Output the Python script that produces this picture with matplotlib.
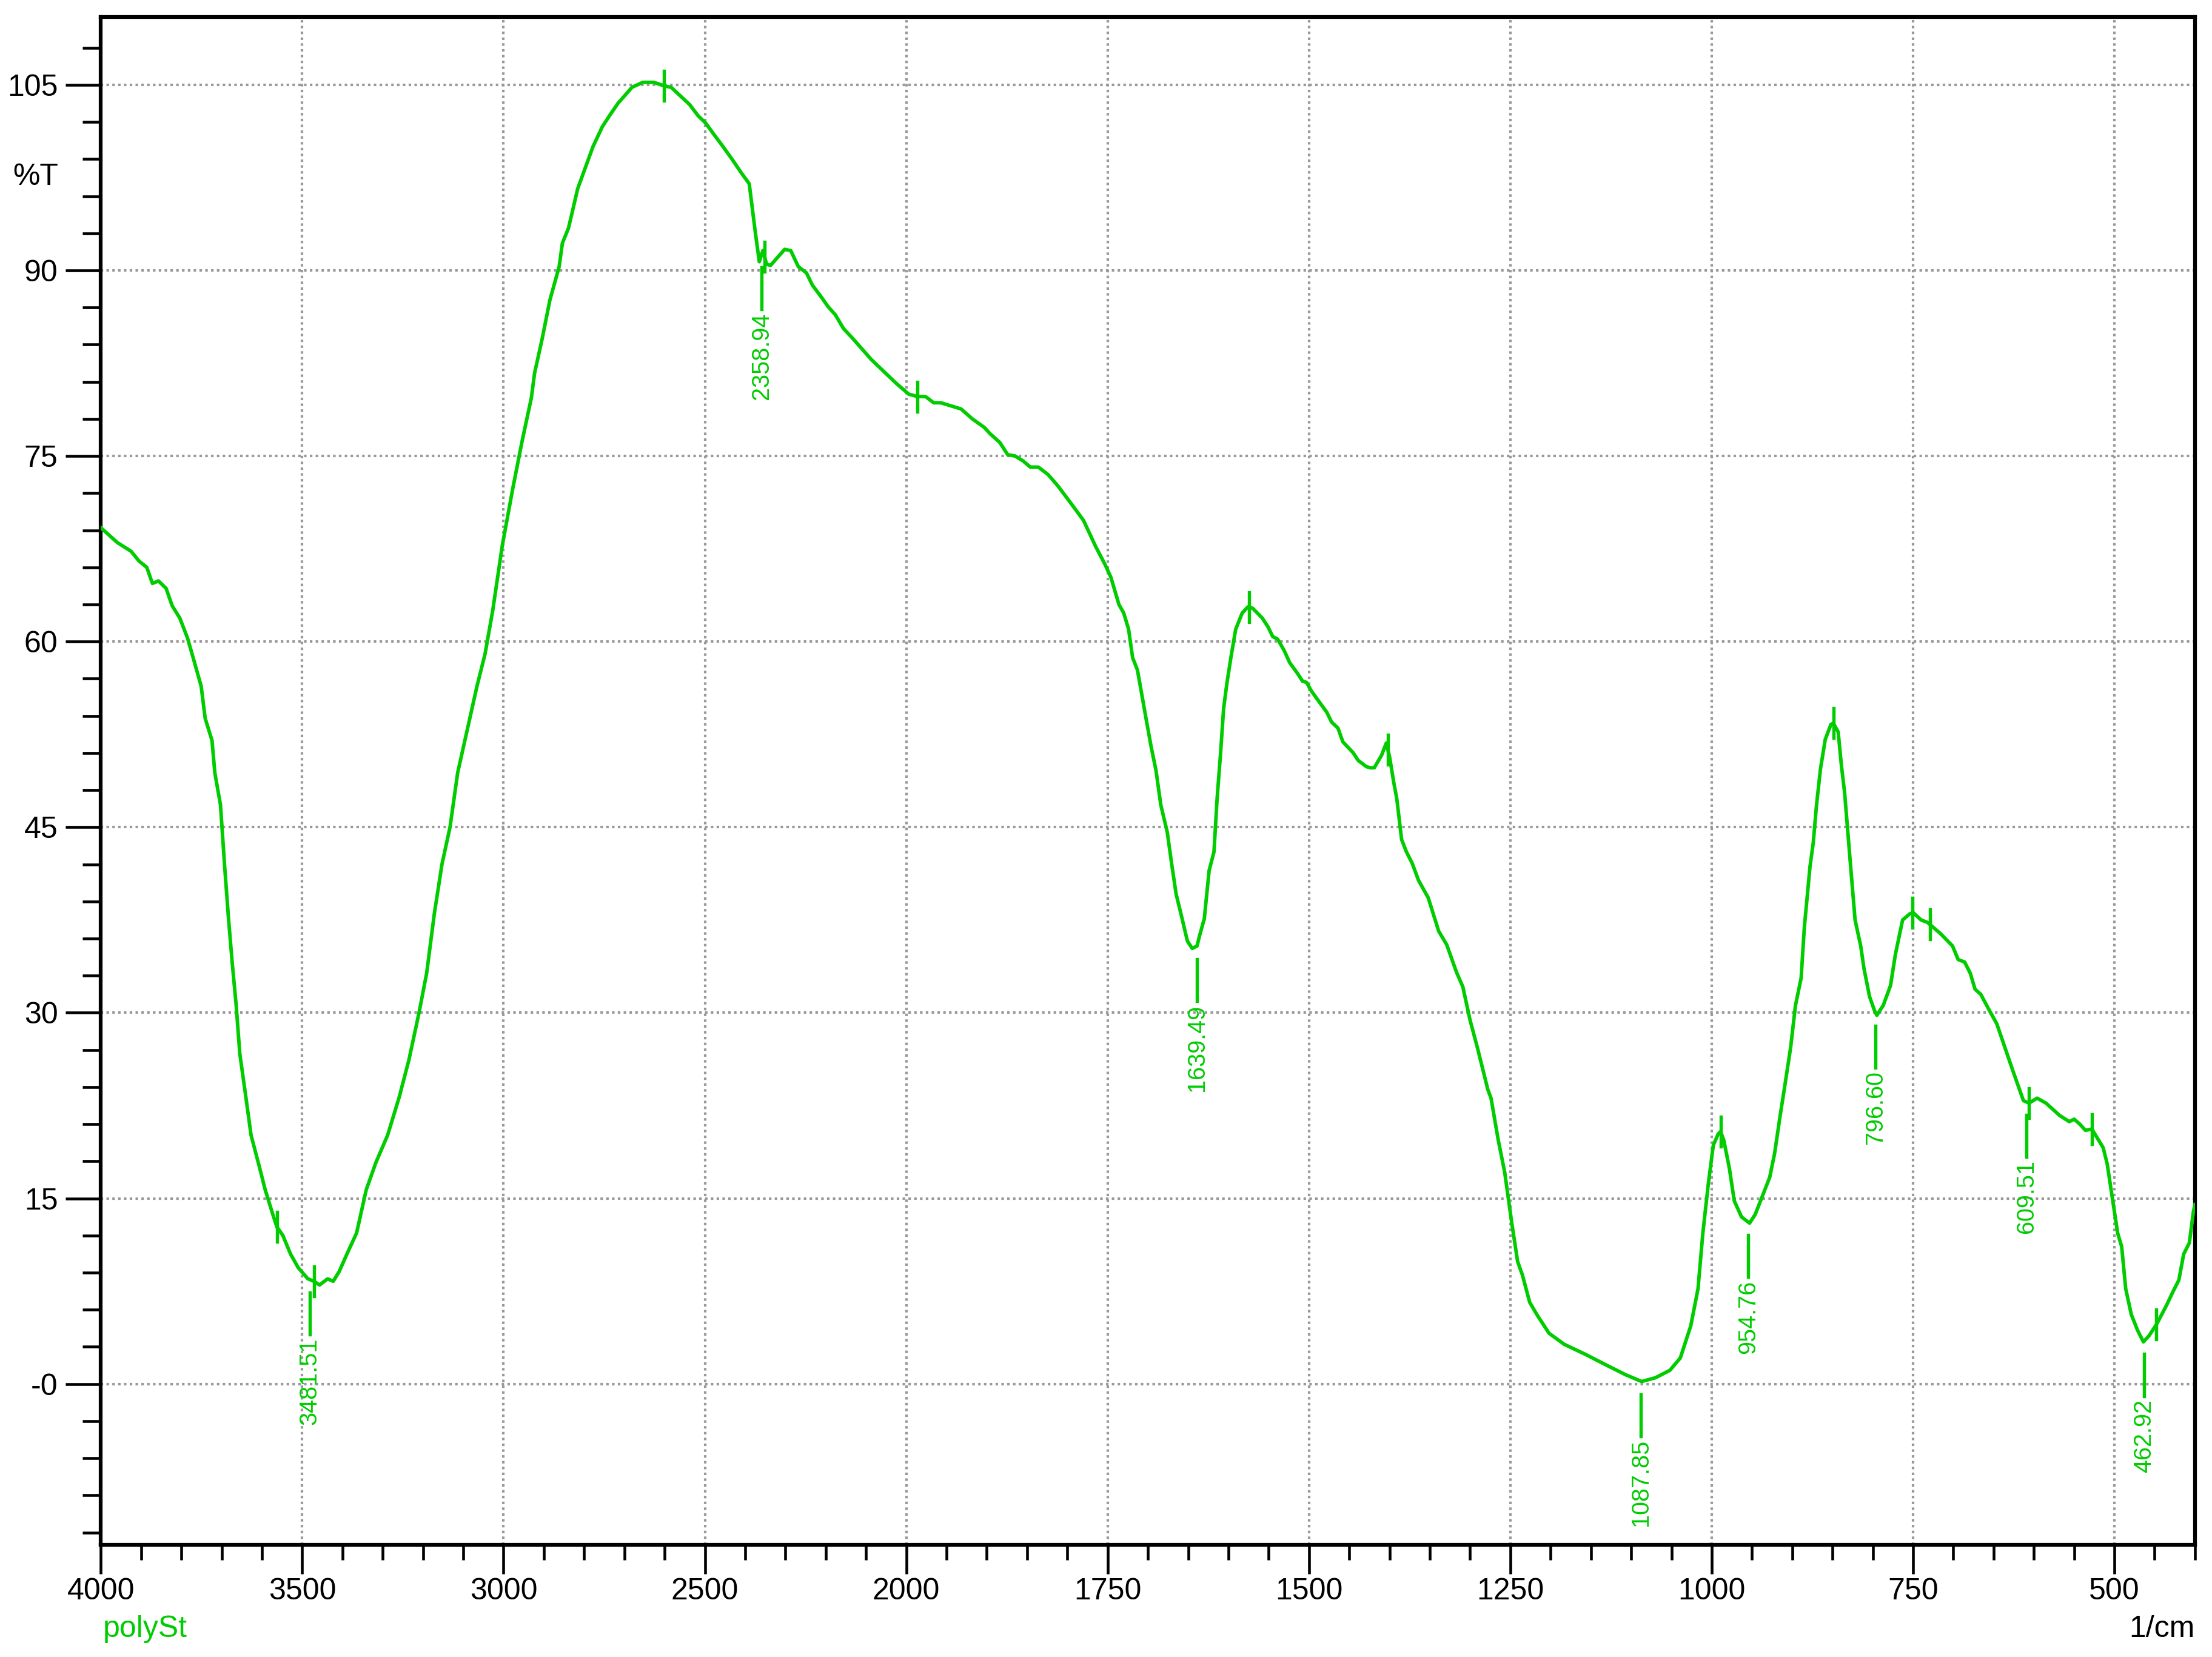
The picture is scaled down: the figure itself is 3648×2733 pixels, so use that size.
import matplotlib.pyplot as plt
import numpy as np
from matplotlib.ticker import FixedLocator, FixedFormatter

plt.rcParams['font.family'] = ['Liberation Sans', 'DejaVu Sans']

# spectrum (1/cm, %T)
wavenumber = [4000, 3983, 3959, 3925, 3905, 3886, 3872, 3857, 3838, 3823, 3804, 3785,
              3770, 3751, 3741, 3724, 3717, 3703, 3693, 3683, 3674, 3664, 3655, 3640,
              3627, 3606, 3592, 3572, 3563, 3548, 3529, 3510, 3486, 3471, 3457, 3437,
              3423, 3408, 3389, 3365, 3341, 3317, 3288, 3259, 3235, 3210, 3191, 3172,
              3153, 3133, 3114, 3090, 3066, 3046, 3027, 3003, 2977, 2954, 2931, 2923,
              2904, 2885, 2862, 2854, 2839, 2831, 2816, 2797, 2778, 2755, 2735, 2716,
              2681, 2654, 2627, 2600, 2584, 2561, 2538, 2517, 2498, 2478, 2455, 2433,
              2410, 2390, 2383, 2375, 2365, 2356, 2347, 2337, 2321, 2302, 2287, 2268,
              2248, 2233, 2210, 2195, 2176, 2156, 2133, 2087, 2026, 1997, 1986, 1976,
              1966, 1957, 1947, 1932, 1918, 1903, 1896, 1884, 1874, 1865, 1855, 1846,
              1836, 1824, 1812, 1797, 1780, 1765, 1753, 1746, 1736, 1730, 1724, 1719,
              1713, 1707, 1701, 1696, 1690, 1684, 1676, 1670, 1665, 1659, 1651, 1645,
              1639, 1636, 1630, 1624, 1618, 1614, 1610, 1606, 1602, 1597, 1591, 1583,
              1576, 1570, 1558, 1551, 1545, 1539, 1531, 1524, 1514, 1508, 1503, 1497,
              1487, 1478, 1472, 1464, 1458, 1445, 1439, 1429, 1424, 1419, 1410, 1404,
              1400, 1395, 1391, 1385, 1379, 1372, 1364, 1352, 1339, 1329, 1317, 1309,
              1300, 1291, 1278, 1274, 1265, 1257, 1248, 1241, 1235, 1226, 1217, 1202,
              1183, 1157, 1130, 1107, 1087, 1070, 1052, 1039, 1026, 1017, 1011, 1004,
              998, 992, 989, 985, 978, 972, 963, 953, 946, 937, 928, 922,
              915, 909, 902, 896, 889, 885, 878, 874, 870, 865, 859, 852,
              849, 843, 839, 835, 828, 822, 815, 811, 804, 798, 795, 787,
              778, 772, 763, 754, 750, 740, 732, 716, 701, 694, 686, 679,
              673, 666, 657, 646, 636, 626, 619, 613, 606, 596, 585, 568,
              556, 550, 543, 536, 528, 514, 509, 503, 496, 491, 486, 479,
              471, 464, 457, 447, 435, 427, 420, 414, 407, 402, 400]
transmittance = [69.2, 68.7, 68.0, 67.3, 66.5, 66.0, 64.7, 64.9, 64.3, 62.9, 61.9, 60.3,
                 58.6, 56.4, 53.8, 52.0, 49.4, 46.8, 42.0, 37.6, 34.1, 30.6, 26.7, 23.2,
                 20.1, 17.5, 15.7, 13.6, 12.7, 12.0, 10.5, 9.4, 8.5, 8.3, 8.0, 8.5,
                 8.3, 9.1, 10.5, 12.2, 15.7, 17.9, 20.1, 23.2, 26.2, 30.0, 33.2, 38.0,
                 42.0, 45.0, 49.4, 52.9, 56.4, 59.0, 62.5, 67.8, 72.4, 76.2, 79.7, 81.7,
                 84.5, 87.6, 90.3, 92.2, 93.4, 94.5, 96.6, 98.3, 100.0, 101.6, 102.6, 103.5,
                 104.8, 105.2, 105.2, 104.9, 104.8, 104.1, 103.4, 102.5, 101.9, 101.0, 100.0, 99.0,
                 97.9, 97.0, 95.2, 93.1, 90.7, 91.6, 90.5, 90.4, 91.0, 91.7, 91.6, 90.3,
                 89.8, 88.8, 87.8, 87.1, 86.4, 85.3, 84.5, 82.8, 80.9, 80.0, 79.8, 79.8,
                 79.3, 79.3, 79.1, 78.8, 78.0, 77.3, 76.8, 76.1, 75.1, 75.0, 74.6, 74.1,
                 74.1, 73.5, 72.6, 71.3, 69.8, 67.7, 66.2, 65.2, 63.0, 62.3, 61.0, 58.7,
                 57.7, 55.5, 53.3, 51.5, 49.6, 46.8, 44.6, 41.8, 39.6, 38.0, 35.8, 35.2,
                 35.4, 36.2, 37.6, 41.5, 43.0, 47.4, 50.8, 54.6, 56.6, 58.7, 61.0, 62.3,
                 62.8, 62.7, 61.9, 61.2, 60.4, 60.2, 59.3, 58.3, 57.4, 56.8, 56.7, 56.0,
                 55.1, 54.3, 53.5, 53.0, 51.9, 51.0, 50.4, 49.9, 49.8, 49.8, 50.8, 51.8,
                 50.7, 48.7, 47.3, 44.0, 43.0, 42.1, 40.7, 39.3, 36.6, 35.5, 33.3, 32.1,
                 29.4, 27.2, 23.8, 23.1, 19.7, 17.1, 12.9, 9.9, 8.8, 6.6, 5.6, 4.1,
                 3.2, 2.4, 1.5, 0.75, 0.2, 0.5, 1.1, 2.1, 4.7, 7.7, 12.2, 16.3,
                 19.3, 20.2, 20.4, 19.7, 17.4, 14.8, 13.5, 13.0, 13.7, 15.2, 16.7, 18.6,
                 21.7, 24.2, 27.2, 30.6, 32.8, 36.9, 41.8, 43.7, 46.7, 49.7, 52.1, 53.3,
                 53.4, 52.7, 50.0, 47.8, 42.2, 37.5, 35.4, 33.6, 31.3, 30.2, 29.8, 30.6,
                 32.2, 34.7, 37.5, 38.0, 38.1, 37.5, 37.3, 36.4, 35.4, 34.3, 34.1, 33.2,
                 31.9, 31.5, 30.4, 29.1, 27.2, 25.3, 24.0, 22.9, 22.7, 23.1, 22.7, 21.7,
                 21.2, 21.4, 21.0, 20.5, 20.6, 19.1, 17.8, 15.2, 12.2, 11.1, 7.7, 5.6,
                 4.3, 3.4, 3.9, 4.9, 6.4, 7.5, 8.4, 10.5, 11.4, 13.9, 14.5]

# labelled minima and unlabelled maxima
peak_labels = [3481.51, 2358.94, 1639.49, 1087.85, 954.76, 796.60, 609.51, 462.92]
peak_tops = [3563, 3470, 2601, 2352, 1986, 1574, 1402, 989, 849, 751, 729, 606, 528, 448]

x_ticks = [4000, 3500, 3000, 2500, 2000, 1750, 1500, 1250, 1000, 750, 500]
y_ticks = [0, 15, 30, 45, 60, 75, 90, 105]
y_tick_labels = ['-0', '15', '30', '45', '60', '75', '90', '105']

green = '#00cc00'


# x axis is stretched 2x below 2000 1/cm
def fwd(x):
    x = np.asarray(x, dtype=float)
    return np.where(x >= 2000, x, 2 * x - 2000)


def inv(y):
    y = np.asarray(y, dtype=float)
    return np.where(y >= 2000, y, (y + 2000) / 2)


fig = plt.figure(figsize=(12.16, 9.11), dpi=300)
ax = fig.add_axes([0.0456, 0.0677, 0.9467, 0.9222])
ax.set_xscale('function', functions=(fwd, inv))
ax.set_xlim(4000, 400)
ax.set_ylim(-13, 110.5)

minor_x = [v for v in list(range(3900, 2000, -100)) + list(range(1950, 399, -50)) if v not in x_ticks]
minor_y = [v for v in range(-12, 110, 3) if v not in y_ticks]
ax.xaxis.set_major_locator(FixedLocator(x_ticks))
ax.xaxis.set_minor_locator(FixedLocator(minor_x))
ax.yaxis.set_major_locator(FixedLocator(y_ticks))
ax.yaxis.set_minor_locator(FixedLocator(minor_y))
ax.yaxis.set_major_formatter(FixedFormatter(y_tick_labels))
ax.xaxis.set_major_formatter(FixedFormatter([str(v) for v in x_ticks]))
ax.xaxis.set_minor_formatter(FixedFormatter([''] * len(minor_x)))

ax.tick_params(axis='both', which='major', direction='out', width=1.1, labelsize=12, colors='black')
ax.tick_params(axis='x', which='major', length=11.5, pad=1.5)
ax.tick_params(axis='y', which='major', length=14, pad=3)
ax.tick_params(axis='x', which='minor', direction='out', length=6, width=1.1)
ax.tick_params(axis='y', which='minor', direction='out', length=7.2, width=1.1)
for s in ax.spines.values():
    s.set_linewidth(1.5)

ax.grid(True, which='major', color='#999999', linestyle=(0, (1, 1.3)), linewidth=1.0)
ax.set_axisbelow(True)

ax.plot(wavenumber, transmittance, color=green, linewidth=1.4, zorder=3)

wn_inc = np.array(wavenumber[::-1], dtype=float)
tr_inc = np.array(transmittance[::-1], dtype=float)

for p in peak_tops:
    t = np.interp(p, wn_inc, tr_inc)
    ax.plot([p, p], [t - 1.2, t + 1.2], color=green, linewidth=1.3, zorder=3)

for p in peak_labels:
    t = np.interp(p, wn_inc, tr_inc)
    ax.plot([p, p], [t - 1.05, t - 4.45], color=green, linewidth=1.3, zorder=3)
    ax.text(p, t - 4.7, '%.2f' % p, rotation=90, ha='center', va='top',
            fontsize=9.5, color=green)

fig.text(0.0263, 0.8932, '%T', ha='right', va='center', fontsize=12)
fig.text(0.9923, 0.0168, '1/cm', ha='right', va='center', fontsize=12)
fig.text(0.0466, 0.0168, 'polySt', ha='left', va='center', fontsize=12, color=green)

plt.savefig('out.png', dpi=300)
